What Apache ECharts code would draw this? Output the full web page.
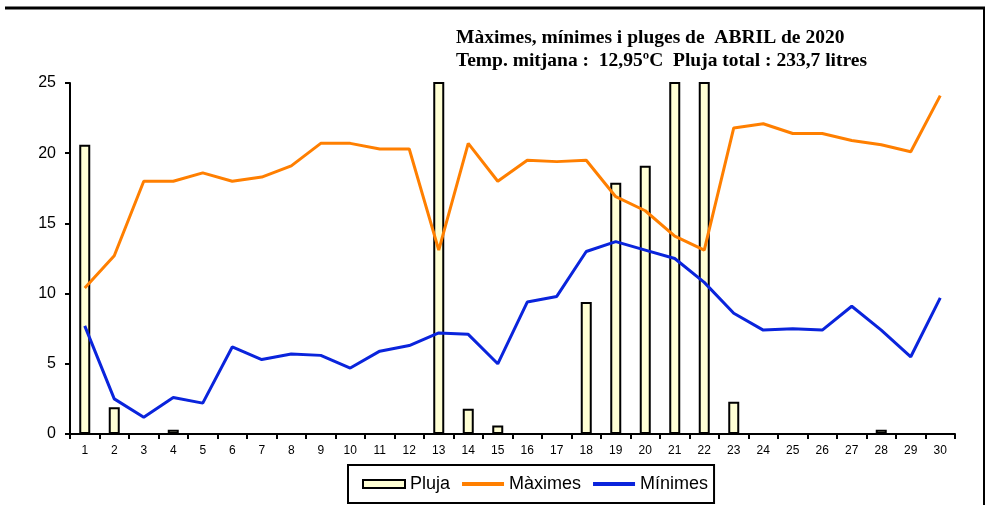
<!DOCTYPE html>
<html>
<head>
<meta charset="utf-8">
<script src="https://cdn.jsdelivr.net/npm/echarts@6/dist/echarts.min.js"></script>
<style>
  html, body { margin: 0; padding: 0; background: #fff; }
  #chart { width: 990px; height: 505px; }
</style>
</head>
<body>
<div id="chart"></div>
<script>
// dies d'abril
var dies = ['1','2','3','4','5','6','7','8','9','10','11','12','13','14','15',
            '16','17','18','19','20','21','22','23','24','25','26','27','28','29','30'];
// pluja (litres) - 13, 21 i 22 surten de l'escala
var pluja = [20.6, 1.9, 0, 0.3, 0, 0, 0, 0, 0, 0, 0, 0, 48.2, 1.8, 0.6,
             0, 0, 9.4, 17.9, 19.1, 58.6, 52.7, 2.3, 0, 0, 0, 0, 0.3, 0, 0];
var maximes = [10.4, 12.7, 18.0, 18.0, 18.6, 18.0, 18.3, 19.1, 20.7, 20.7, 20.3, 20.3, 13.1, 20.7, 18.0,
               19.5, 19.4, 19.5, 16.9, 15.9, 14.1, 13.1, 21.8, 22.1, 21.4, 21.4, 20.9, 20.6, 20.1, 24.1];
var minimes = [7.7, 2.5, 1.2, 2.6, 2.2, 6.2, 5.3, 5.7, 5.6, 4.7, 5.9, 6.3, 7.2, 7.1, 5.0,
               9.4, 9.8, 13.0, 13.7, 13.1, 12.5, 10.8, 8.6, 7.4, 7.5, 7.4, 9.1, 7.4, 5.5, 9.7];
var yTicks = { min: 0, max: 25, interval: 5 };

var chart = echarts.init(document.getElementById('chart'));
var option = {
    animation: false,
    backgroundColor: '#fff',
    title: {
        text: 'Màximes, mínimes i pluges de  ABRIL de 2020\nTemp. mitjana :  12,95ºC  Pluja total : 233,7 litres',
        left: 456,
        top: 26,
        padding: 0,
        textStyle: {
            fontFamily: 'Liberation Serif',
            fontWeight: 'bold',
            fontSize: 19.5,
            lineHeight: 23,
            color: '#000'
        }
    },
    legend: {
        left: 348,
        top: 465,
        padding: [10, 6, 10, 14],
        borderColor: '#000',
        borderWidth: 2,
        itemGap: 10,
        itemWidth: 42,
        itemHeight: 8,
        textStyle: {
            fontFamily: 'Liberation Sans',
            fontSize: 18,
            color: '#000'
        },
        data: [
            { name: 'Pluja', icon: 'rect' },
            { name: 'Màximes', itemStyle: { opacity: 0 }, lineStyle: { width: 4 } },
            { name: 'Mínimes', itemStyle: { opacity: 0 }, lineStyle: { width: 4 } }
        ]
    },
    grid: {
        left: 70,
        right: 35,
        top: 83,
        bottom: 71
    },
    xAxis: {
        type: 'category',
        data: dies,
        axisLine: { lineStyle: { color: '#000', width: 2 } },
        axisTick: { show: true, interval: 0, length: 5, lineStyle: { color: '#000', width: 2 } },
        axisLabel: {
            interval: 0,
            margin: 11,
            fontFamily: 'Liberation Sans',
            fontSize: 12,
            color: '#000'
        }
    },
    yAxis: {
        type: 'value',
        min: yTicks.min,
        max: yTicks.max,
        interval: yTicks.interval,
        splitLine: { show: false },
        axisLine: { show: true, lineStyle: { color: '#000', width: 2 } },
        axisTick: { show: true, length: 5, lineStyle: { color: '#000', width: 2 } },
        axisLabel: {
            margin: 14,
            fontFamily: 'Liberation Sans',
            fontSize: 16,
            color: '#000'
        }
    },
    series: [
        {
            name: 'Pluja',
            type: 'bar',
            barWidth: 11,
            clip: true,
            itemStyle: { color: '#FFFFD4', borderColor: '#000', borderWidth: 2 },
            data: pluja
        },
        {
            name: 'Màximes',
            type: 'line',
            symbol: 'none',
            itemStyle: { color: '#FF7F00' },
            lineStyle: { color: '#FF7F00', width: 3 },
            data: maximes
        },
        {
            name: 'Mínimes',
            type: 'line',
            symbol: 'none',
            itemStyle: { color: '#0A24DC' },
            lineStyle: { color: '#0A24DC', width: 3 },
            data: minimes
        }
    ],
    graphic: [
        // marc superior i dret
        { type: 'line', shape: { x1: 5, y1: 8, x2: 985, y2: 8 }, style: { stroke: '#000', lineWidth: 3 } },
        { type: 'line', shape: { x1: 984, y1: 8, x2: 984, y2: 505 }, style: { stroke: '#000', lineWidth: 2 } }
    ]
};
chart.setOption(option);
</script>
</body>
</html>
